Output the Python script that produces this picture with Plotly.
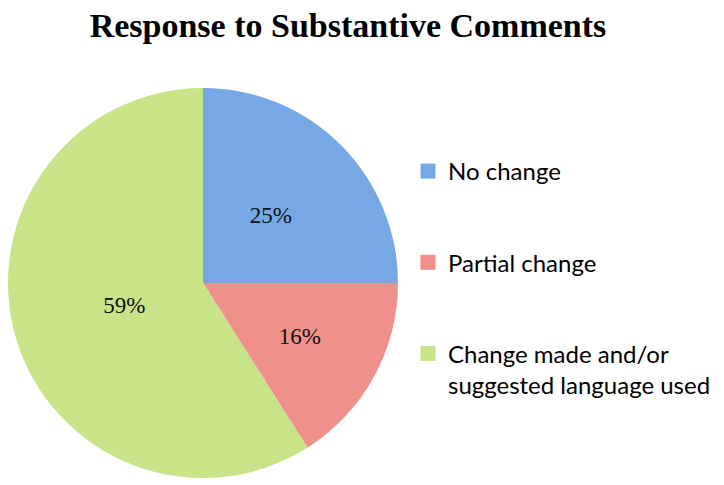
import plotly.graph_objects as go

categories = ["No change", "Partial change", "Change made and/or<br>suggested language used"]
values = [25, 16, 59]
colors = ["#76A8E6", "#F0908A", "#C9E388"]
title_text = "Response to Substantive Comments"

W, H = 724, 485
OFF = 8  # page body margin offset

def px_x(x):
    return (x - OFF) / W

def px_y(y):
    return 1 - (y - OFF) / H

cx, cy, R = 203, 283, 195

fig = go.Figure()
fig.add_trace(go.Pie(
    labels=categories,
    values=values,
    sort=False,
    direction="clockwise",
    rotation=0,
    marker=dict(colors=colors, line=dict(width=0)),
    textinfo="none",
    domain=dict(x=[px_x(cx - R), px_x(cx + R)], y=[px_y(cy + R), px_y(cy - R)]),
    showlegend=False,
    hoverinfo="label+percent",
))

# percentage labels, drawn by a transparent inner pie of the same data
r2 = 0.84 * R
fig.add_trace(go.Pie(
    labels=categories,
    values=values,
    sort=False,
    direction="clockwise",
    rotation=0,
    marker=dict(colors=["rgba(0,0,0,0)"] * len(values), line=dict(width=0)),
    textinfo="percent",
    texttemplate="%{percent:.0%}",
    textposition="inside",
    insidetextorientation="horizontal",
    textfont=dict(family="Liberation Serif", size=23, color="#111111"),
    domain=dict(x=[px_x(cx - r2), px_x(cx + r2)], y=[px_y(cy + r2), px_y(cy - r2)]),
    showlegend=False,
    hoverinfo="skip",
))

# legend entries (one per slice, grouped so spacing can be set)
for i, (lab, col) in enumerate(zip(categories, colors)):
    fig.add_trace(go.Scatter(
        x=[None], y=[None], mode="markers", name=lab,
        marker=dict(symbol="square", size=15, color=col),
        legendgroup=f"g{i}", showlegend=True, hoverinfo="skip",
    ))

fig.update_layout(
    width=W, height=H,
    margin=dict(l=0, r=0, t=0, b=0),
    paper_bgcolor="white", plot_bgcolor="white",
    title=dict(text=f"<b>{title_text}</b>", x=px_x(348), xanchor="center",
               y=px_y(25), yanchor="middle",
               font=dict(family="Liberation Serif", size=34, color="#000000")),
    xaxis=dict(visible=False), yaxis=dict(visible=False),
    legend=dict(x=px_x(408), xanchor="left", y=px_y(149), yanchor="top",
                font=dict(family="Lato", size=24, color="#000000"),
                tracegroupgap=57, valign="top", bgcolor="rgba(0,0,0,0)"),
)

fig.write_html("out.html")
